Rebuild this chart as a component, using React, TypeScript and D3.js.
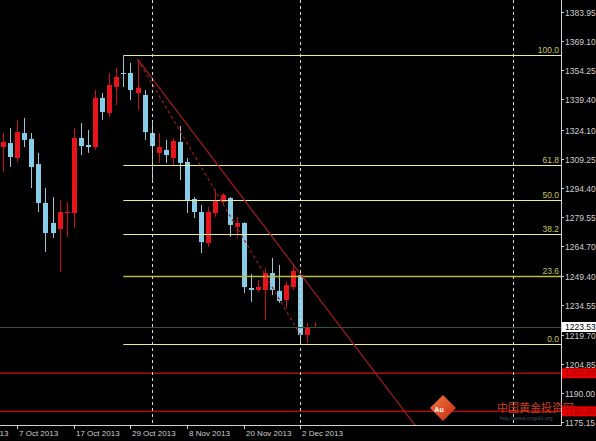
import React, { useEffect, useRef } from 'react';
import * as d3 from 'd3';

const W = 596;
const H = 441;

// daily bars, 3 Oct 2013 .. 4 Dec 2013
const opens = [1315.2, 1317.2, 1309.6, 1322.3, 1319.3, 1306.5, 1286.7, 1276.5, 1273.4, 1281.6, 1281.6, 1319.8, 1316.2, 1315.2, 1340.2, 1332.5, 1345.8, 1352.9, 1352.9, 1342.7, 1341.7, 1322.3, 1312.2, 1313.7, 1309.6, 1317.8, 1307.6, 1288.7, 1282.1, 1266.3, 1281.6, 1287.2, 1289.2, 1274.5, 1276.5, 1243.4, 1242.4, 1242.4, 1251.0, 1241.9, 1237.3, 1243.9, 1250.0, 1219.5, 1223.3];
const highs = [1322.3, 1324.9, 1329.0, 1330.0, 1322.3, 1312.2, 1294.3, 1289.7, 1288.2, 1287.2, 1324.9, 1327.4, 1323.9, 1344.2, 1342.7, 1352.9, 1355.4, 1361.5, 1358.0, 1359.5, 1344.2, 1327.4, 1322.3, 1318.8, 1319.8, 1325.9, 1309.6, 1289.7, 1285.7, 1284.6, 1293.3, 1291.8, 1289.7, 1279.6, 1276.8, 1250.5, 1247.5, 1253.6, 1258.7, 1255.1, 1246.5, 1255.1, 1252.6, 1225.6, 1226.0];
const lows = [1302.5, 1305.0, 1307.6, 1315.2, 1294.3, 1282.1, 1261.7, 1268.9, 1251.5, 1269.4, 1274.0, 1311.1, 1312.2, 1313.7, 1329.0, 1330.5, 1336.6, 1345.8, 1339.1, 1334.0, 1318.8, 1298.4, 1307.1, 1307.1, 1306.0, 1298.4, 1281.6, 1279.0, 1261.2, 1264.3, 1279.6, 1285.7, 1269.4, 1268.9, 1240.9, 1236.3, 1241.4, 1227.1, 1239.8, 1235.8, 1233.2, 1242.4, 1215.0, 1215.4, 1222.8];
const closes = [1317.8, 1310.1, 1322.8, 1318.8, 1305.0, 1286.7, 1271.4, 1271.4, 1282.1, 1282.1, 1319.8, 1315.7, 1315.2, 1340.2, 1333.0, 1346.8, 1350.9, 1352.4, 1344.2, 1345.3, 1322.8, 1315.7, 1315.2, 1311.1, 1318.3, 1307.1, 1288.2, 1282.1, 1266.8, 1282.1, 1288.2, 1290.8, 1275.5, 1276.5, 1243.9, 1242.4, 1243.9, 1251.0, 1242.4, 1236.8, 1244.9, 1252.1, 1219.5, 1223.3, 1223.53];

// time axis labels: bar index -> text
const dateIdx = [-6, 2, 10, 18, 26, 34, 42];
const dateLabels = ['25 Sep 2013', '7 Oct 2013', '17 Oct 2013', '29 Oct 2013', '8 Nov 2013', '20 Nov 2013', '2 Dec 2013'];

// price axis labels
const priceTicks = [1383.95, 1369.10, 1354.25, 1339.40, 1324.10, 1309.25, 1294.40, 1279.55, 1264.70, 1249.40, 1234.55, 1219.70, 1204.85, 1190.00, 1175.15];

// period separators (bar index)
const separators = [21, 42, 72];

// fibonacci retracement
const fibLevels = [100.0, 61.8, 50.0, 38.2, 23.6, 0.0];
const fibHigh = 1362.05;
const fibLow = 1214.87;
const fibStart = 17;

// trend lines: [startIdx, startPrice, endIdx, endPrice]
const trendSolid = [19, 1359.9, 42, 1250.5];
const trendDashed = [19, 1359.9, 42, 1219.5];

// horizontal lines
const redLines = [1200.00, 1180.58];
const lastPrice = 1223.53;

const App: React.FC = () => {
  const ref = useRef<SVGSVGElement>(null);

  useEffect(() => {
    if (!ref.current) return;
    const svg = d3.select(ref.current);
    svg.selectAll('*').remove();

    const plotR = 561;
    const plotB = 425;
    const font = '"Liberation Sans", Arial, sans-serif';

    const x = d3.scaleLinear().domain([0, 42]).range([3, 300.4]);
    const y = d3.scaleLinear().domain([1175.15, 1383.95]).range([422, 12]);
    const crisp = (v: number) => Math.round(v) + 0.5;

    svg.append('rect').attr('width', W).attr('height', H).attr('fill', '#000');

    const defs = svg.append('defs');
    defs.append('clipPath').attr('id', 'plot')
      .append('rect').attr('x', 0).attr('y', 0).attr('width', plotR).attr('height', plotB);

    const plot = svg.append('g').attr('clip-path', 'url(#plot)');

    // candles
    const bars = d3.range(opens.length);
    const cg = plot.append('g');
    bars.forEach(i => {
      const up = closes[i] >= opens[i];
      const col = up ? '#e8141c' : '#87cdea';
      const cx = crisp(x(i));
      cg.append('line')
        .attr('x1', cx).attr('x2', cx)
        .attr('y1', y(highs[i])).attr('y2', y(lows[i]))
        .attr('stroke', up ? '#c81018' : '#9cc4d4').attr('stroke-width', 1);
      const top = y(Math.max(opens[i], closes[i]));
      const bot = y(Math.min(opens[i], closes[i]));
      cg.append('rect')
        .attr('x', cx - 2.5).attr('width', 5)
        .attr('y', top).attr('height', Math.max(1, bot - top))
        .attr('fill', col);
    });

    // red horizontal lines
    redLines.forEach(p => {
      plot.append('line')
        .attr('x1', 0).attr('x2', plotR)
        .attr('y1', y(p)).attr('y2', y(p))
        .attr('stroke', '#a80c0c').attr('stroke-width', 1.5);
    });

    // last price line
    plot.append('line')
      .attr('x1', 0).attr('x2', plotR)
      .attr('y1', crisp(y(lastPrice))).attr('y2', crisp(y(lastPrice)))
      .attr('stroke', '#2f5a2f').attr('stroke-width', 1);

    // fibo levels
    fibLevels.forEach(lv => {
      const p = fibLow + (fibHigh - fibLow) * lv / 100;
      const yy = crisp(y(p));
      plot.append('line')
        .attr('x1', x(fibStart)).attr('x2', plotR)
        .attr('y1', yy).attr('y2', yy)
        .attr('stroke', lv === 23.6 ? '#bcbc36' : '#ecec9e')
        .attr('stroke-width', lv === 23.6 ? 1.5 : 1);
      plot.append('text')
        .attr('x', 559).attr('y', yy - 2.5)
        .attr('text-anchor', 'end')
        .attr('font-family', font).attr('font-size', 8.5)
        .attr('fill', '#c8c85a')
        .text(lv.toFixed(1));
    });

    // trend lines
    const drawTrend = (t: number[], ray: boolean, dash: string | null) => {
      const [i1, p1, i2, p2] = t;
      const slope = (p2 - p1) / (i2 - i1);
      const iEnd = ray ? i2 + 60 : i2;
      const ln = plot.append('line')
        .attr('x1', x(i1)).attr('y1', y(p1))
        .attr('x2', x(iEnd)).attr('y2', y(p1 + slope * (iEnd - i1)))
        .attr('stroke', '#a51c1c').attr('stroke-width', 1.2);
      if (dash) ln.attr('stroke-dasharray', dash);
    };
    drawTrend(trendSolid, true, null);
    drawTrend(trendDashed, false, '3,3');

    // period separators
    separators.forEach(i => {
      const sx = crisp(x(i));
      plot.append('line')
        .attr('x1', sx).attr('x2', sx)
        .attr('y1', 0).attr('y2', plotB)
        .attr('stroke', '#d8d8d8').attr('stroke-width', 1)
        .attr('stroke-dasharray', '3,3');
    });

    // axes frame
    svg.append('line').attr('x1', plotR + 0.5).attr('x2', plotR + 0.5).attr('y1', 0).attr('y2', plotB + 0.5)
      .attr('stroke', '#d0d0d0');
    svg.append('line').attr('x1', 0).attr('x2', plotR + 0.5).attr('y1', plotB + 0.5).attr('y2', plotB + 0.5)
      .attr('stroke', '#d0d0d0');

    // price axis
    priceTicks.forEach(p => {
      const yy = crisp(y(p));
      svg.append('line').attr('x1', plotR).attr('x2', plotR + 3).attr('y1', yy).attr('y2', yy).attr('stroke', '#d0d0d0');
      svg.append('text')
        .attr('x', 565).attr('y', yy + 3)
        .attr('font-family', font).attr('font-size', 8.5)
        .attr('fill', '#cfcfcf')
        .text(p.toFixed(2));
    });

    // time axis
    dateIdx.forEach((i, k) => {
      const tx = crisp(x(i));
      svg.append('line').attr('x1', tx).attr('x2', tx).attr('y1', plotB).attr('y2', plotB + 4).attr('stroke', '#d0d0d0');
      svg.append('text')
        .attr('x', tx + 1.5).attr('y', 435.5)
        .attr('font-family', font).attr('font-size', 8)
        .attr('fill', '#cfcfcf')
        .text(dateLabels[k]);
    });

    // watermark
    const wm = svg.append('g').attr('transform', 'translate(443,408)');
    const grad = defs.append('linearGradient').attr('id', 'logo')
      .attr('x1', '0%').attr('y1', '0%').attr('x2', '100%').attr('y2', '100%');
    grad.append('stop').attr('offset', '0%').attr('stop-color', '#f47a3a');
    grad.append('stop').attr('offset', '100%').attr('stop-color', '#c22a16');
    wm.append('path').attr('d', 'M0,-13 L13,0 L0,13 L-13,0 Z').attr('fill', 'url(#logo)');
    wm.append('path').attr('d', 'M-3,-7 A8,8 0 1 1 7,6 A6,6 0 1 0 -3,-7 Z').attr('fill', '#fff').attr('opacity', 0.9);
    wm.append('text').attr('x', -4).attr('y', 4).attr('text-anchor', 'middle')
      .attr('font-family', font).attr('font-size', 7).attr('font-weight', 'bold')
      .attr('fill', '#fff').text('Au');
    svg.append('text')
      .attr('x', 497).attr('y', 412)
      .attr('font-family', '"Noto Sans CJK SC", sans-serif').attr('font-size', 11)
      .attr('fill', '#e0441e').attr('opacity', 0.9)
      .text('中国黄金投资网');
    svg.append('text')
      .attr('x', 500).attr('y', 419.5)
      .attr('font-family', font).attr('font-size', 5.5)
      .attr('fill', '#56627a').attr('opacity', 0.8)
      .text('http://www.cngold.org');

    // price labels for lines
    const priceBox = (p: number, bg: string, fg: string) => {
      const yy = y(p);
      svg.append('rect').attr('x', 562).attr('y', yy - 5).attr('width', 34).attr('height', 10).attr('fill', bg);
      svg.append('text')
        .attr('x', 565).attr('y', yy + 3)
        .attr('font-family', font).attr('font-size', 8.5)
        .attr('fill', fg)
        .text(p.toFixed(2));
    };
    redLines.forEach(p => priceBox(p, '#e60000', '#a80000'));
    priceBox(lastPrice, '#ffffff', '#000000');
  }, []);

  return (
    <svg
      ref={ref}
      width={W}
      height={H}
      style={{ position: 'absolute', left: 0, top: 0, display: 'block' }}
    />
  );
};

export default App;
